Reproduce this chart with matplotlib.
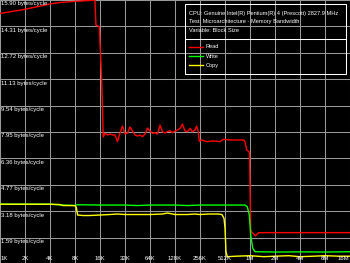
import numpy as np
import matplotlib
matplotlib.use("Agg")
import matplotlib.pyplot as plt

# block size in KB, bandwidth in bytes/cycle
read_kb = [1, 2, 4, 5.3, 8, 12.8, 13.9, 14.3, 15.7, 16, 16.8, 17.15, 17.5,
           18.38, 19.70, 21.11, 22.63, 24.25, 25.99, 27.86, 29.86, 32, 34.30,
           36.76, 39.40, 42.22, 45.25, 48.50, 51.98, 55.72, 59.71, 64, 68.59,
           73.52, 78.79, 84.45, 90.51, 97.01, 103.97, 111.43, 119.43, 128,
           137.19, 147.03, 157.59, 168.90, 181.02, 194.01, 207.94, 222.86,
           233.6, 244, 251, 256,
           268, 308, 370, 446, 488, 588, 708, 850, 891, 934, 996, 1010, 1044,
           1073, 1113, 1190, 1289, 1600, 2048, 4096, 8192, 16384]
read_bpc = [15.09, 15.34, 15.66, 15.75, 15.82, 15.88, 15.88, 14.39, 14.29, 13.31, 10.90, 9.40, 7.65,
            7.87, 7.77, 7.83, 7.77, 7.77, 7.37, 7.89, 8.31, 7.83, 7.89,
            8.25, 8.01, 7.77, 7.71, 7.77, 7.67, 7.83, 8.19, 8.01, 7.87,
            7.91, 7.83, 8.37, 7.97, 7.89, 7.98, 8.03, 7.91, 8.01,
            8.07, 8.17, 8.43, 8.01, 7.97, 8.17, 7.97, 8.07,
            8.31, 7.97, 7.40, 7.41,
            7.47, 7.37, 7.41, 7.37, 7.51, 7.47, 7.47, 7.47, 7.37, 6.87, 6.76, 6.70, 2.10,
            1.92, 1.85, 1.69, 1.88, 1.89, 1.89, 1.89, 1.89, 1.89]

write_kb = [1, 2, 4, 5.7, 8, 8.5, 16, 32, 45, 64, 128, 181, 256, 512,
            891, 950, 1004, 1044, 1104, 1176, 2048, 4096, 8192, 16384]
write_bpc = [3.60, 3.60, 3.60, 3.55, 3.52, 3.57, 3.55, 3.55, 3.52, 3.55, 3.55, 3.52, 3.55, 3.55,
             3.55, 3.45, 2.95, 1.75, 0.95, 0.74, 0.72, 0.73, 0.72, 0.74]

copy_kb = [1, 2, 4, 5.3, 5.7, 8, 8.3, 8.6, 10, 12, 16, 21, 26, 32, 45, 64, 90, 104,
           128, 181, 220, 256, 330, 420, 470, 498, 512, 526, 546, 700, 1024, 1500,
           2048, 3000, 4096, 6000, 8192, 12000, 16384]
copy_bpc = [3.60, 3.60, 3.60, 3.58, 3.52, 3.52, 3.40, 2.95, 2.92, 2.92, 2.95, 2.98, 3.01, 2.98,
            2.98, 2.98, 3.01, 3.07, 2.98, 2.98, 3.01, 2.98, 3.01, 3.01, 2.98, 2.75, 2.17, 0.74,
            0.44, 0.47, 0.50, 0.44, 0.47, 0.50, 0.44, 0.47, 0.50, 0.47, 0.47]

y_ticks = [15.90, 14.31, 12.72, 11.13, 9.54, 7.95, 6.36, 4.77, 3.18, 1.59]
x_ticks = [2 ** i for i in range(15)]
x_labels = ["1K", "2K", "4K", "8K", "16K", "32K", "64K", "128K", "256K", "512K",
            "1M", "2M", "4M", "8M", "16M"]

info_lines = ["CPU: Genuine Intel(R) Pentium(R) 4 (Prescott) 2827.9 MHz",
              "Test: Microarchitecture - Memory Bandwidth",
              "Variable: Block Size"]
series_names = ["Read", "Write", "Copy"]
series_colors = ["#ff0000", "#00ff00", "#ffff00"]

plt.rcParams['font.family'] = ['Liberation Sans', 'DejaVu Sans']
fs = 4.3
W, H = 350, 263

fig = plt.figure(figsize=(3.5, 2.63), dpi=100, facecolor="black")
ax = fig.add_axes([0, 0, 1, 1], facecolor="black")
ax.set_xscale("log", base=2)
ax.set_xlim(1, 16384)
ax.set_ylim(0.06, 15.90)
ax.set_xticks(x_ticks)
ax.set_yticks(y_ticks)
ax.grid(True, color="#999999", lw=0.75)
ax.tick_params(length=0, labelbottom=False, labelleft=False)
ax.minorticks_off()
for s in ax.spines.values():
    s.set_visible(False)

for xs, ys, c in zip([read_kb, write_kb, copy_kb], [read_bpc, write_bpc, copy_bpc], series_colors):
    ax.plot(xs, ys, color=c, lw=1.0)

for v in y_ticks:
    ax.annotate("%.2f bytes/cycle" % v, xy=(0, v), xycoords=("axes fraction", "data"),
                xytext=(1, -1.5), textcoords="offset pixels", ha="left", va="top",
                color="white", fontsize=fs)

for i, (k, lab) in enumerate(zip(x_ticks, x_labels)):
    ha, dx = "center", 0
    if i == 0:
        ha, dx = "left", 1
    elif i == len(x_ticks) - 1:
        ha, dx = "right", -1
    ax.annotate(lab, xy=(k, 0), xycoords=("data", "axes fraction"),
                xytext=(dx, 2), textcoords="offset pixels", ha=ha, va="bottom",
                color="white", fontsize=fs)

# info / legend box (pixel layout of the original screenshot)
def fx(px):
    return px / W

def fy(py):
    return 1 - py / H

fig.add_artist(plt.Rectangle((fx(185), fy(74)), fx(346) - fx(185), fy(4) - fy(74),
                             transform=fig.transFigure, fill=False, ec="white", lw=0.75))
fig.add_artist(plt.Line2D([fx(185), fx(346)], [fy(39), fy(39)],
                          transform=fig.transFigure, color="white", lw=0.75))
for j, line in enumerate(info_lines):
    fig.text(fx(189), fy(13 + 8.7 * j), line, color="white", fontsize=4.1,
             ha="left", va="center")
for j, (name, c) in enumerate(zip(series_names, series_colors)):
    yy = fy(47 + 9 * j)
    fig.add_artist(plt.Line2D([fx(189), fx(203)], [yy, yy], transform=fig.transFigure,
                              color=c, lw=1.0))
    fig.text(fx(206), yy, name, color="white", fontsize=4.1, ha="left", va="center")

fig.savefig("out.png", dpi=100, facecolor="black")
